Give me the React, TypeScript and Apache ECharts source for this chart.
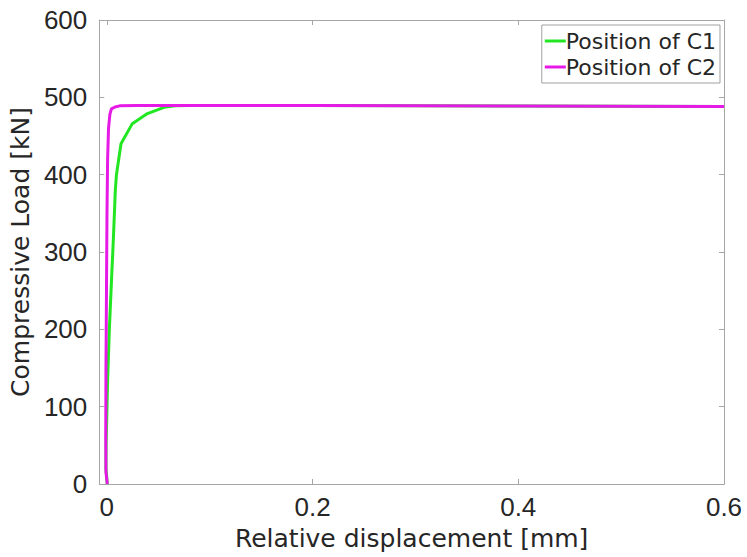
import React, { useEffect, useRef } from "react";
import * as echarts from "echarts";

// Relative displacement [mm] vs compressive load [kN] for the two gauge positions
const c1Disp = [0.0005, -0.0008, -0.0007, 0.0008, 0.0025, 0.0046, 0.0065, 0.0083, 0.0094, 0.0138, 0.0248, 0.0395, 0.0557, 0.0664, 0.08, 0.2, 0.3, 0.4, 0.5, 0.6];
const c1Load = [0, 20, 48, 134, 200, 264, 320, 380, 400, 440, 466, 479, 487, 489, 489.5, 489.3, 489, 488.8, 488.5, 488.3];

const c2Disp = [0.0005, -0.0008, -0.001, -0.0008, -0.0003, 0.0002, 0.0008, 0.0017, 0.003, 0.0045, 0.008, 0.0125, 0.03, 0.1, 0.2, 0.3, 0.4, 0.5, 0.6];
const c2Load = [0, 15, 60, 150, 250, 350, 420, 460, 478, 485, 487.5, 489, 489.5, 489.5, 489.3, 489, 488.8, 488.5, 488.3];

const seriesNames = ["Position of C1", "Position of C2"];
const xTicks = [0, 0.2, 0.4, 0.6];
const yTicks = [0, 100, 200, 300, 400, 500, 600];

const pairs = (xs: number[], ys: number[]) => xs.map((x, i) => [x, ys[i]]);

export default function App() {
  const ref = useRef<HTMLDivElement>(null);

  useEffect(() => {
    if (!ref.current) return;
    const chart = echarts.init(ref.current, undefined, { renderer: "svg" });
    const axisColor = "#a6a6a6";
    const textColor = "#262626";
    const tickFont = "'Liberation Sans', Arial, sans-serif";
    const titleFont = "'DejaVu Sans', sans-serif";

    const xBase = {
      type: "value" as const,
      min: -0.0073,
      max: 0.6,
      axisLine: { show: true, onZero: false, lineStyle: { color: axisColor, width: 1 } },
      axisTick: { show: true, inside: true, length: 5, customValues: xTicks, lineStyle: { color: axisColor } },
      splitLine: { show: false },
    };
    const yBase = {
      type: "value" as const,
      min: 0,
      max: 600,
      interval: 100,
      axisLine: { show: true, onZero: false, lineStyle: { color: axisColor, width: 1 } },
      axisTick: { show: true, inside: true, length: 5, lineStyle: { color: axisColor } },
      splitLine: { show: false },
    };

    chart.setOption({
      animation: false,
      backgroundColor: "#ffffff",
      grid: { left: 95, right: 23, top: 20, bottom: 73 },
      legend: {
        data: seriesNames,
        orient: "vertical",
        right: 27,
        top: 25,
        icon: "rect",
        itemWidth: 21,
        itemHeight: 3,
        itemGap: 4,
        padding: [5, 4, 5, 3],
        borderColor: "#a0a0a0",
        borderWidth: 1,
        backgroundColor: "#ffffff",
        textStyle: { fontFamily: titleFont, fontSize: 22, color: textColor, padding: [0, 0, 0, -5] },
      },
      xAxis: [
        {
          ...xBase,
          position: "bottom",
          name: "Relative displacement [mm]",
          nameLocation: "middle",
          nameGap: 42,
          nameTextStyle: { fontFamily: titleFont, fontSize: 25, color: textColor },
          axisLabel: {
            show: true,
            customValues: xTicks,
            margin: 10,
            fontFamily: tickFont,
            fontSize: 26,
            color: textColor,
            formatter: (v: number) => String(Math.round(v * 10) / 10),
          },
        },
        { ...xBase, position: "top", axisLabel: { show: false } },
      ],
      yAxis: [
        {
          ...yBase,
          position: "left",
          name: "Compressive Load [kN]",
          nameLocation: "middle",
          nameGap: 58,
          nameTextStyle: { fontFamily: titleFont, fontSize: 25, color: textColor },
          axisLabel: {
            show: true,
            margin: 12,
            fontFamily: tickFont,
            fontSize: 26,
            color: textColor,
            customValues: yTicks,
          },
        },
        { ...yBase, position: "right", axisLabel: { show: false } },
      ],
      series: [
        {
          name: seriesNames[0],
          type: "line",
          data: pairs(c1Disp, c1Load),
          showSymbol: false,
          symbol: "none",
          color: "#22e622",
          lineStyle: { width: 3, color: "#22e622" },
          z: 2,
        },
        {
          name: seriesNames[1],
          type: "line",
          data: pairs(c2Disp, c2Load),
          showSymbol: false,
          symbol: "none",
          color: "#e619e6",
          lineStyle: { width: 3, color: "#e619e6" },
          z: 3,
        },
      ],
    });

    return () => chart.dispose();
  }, []);

  return (
    <div
      ref={ref}
      style={{ position: "absolute", left: 0, top: 0, width: 747, height: 557 }}
    />
  );
}
